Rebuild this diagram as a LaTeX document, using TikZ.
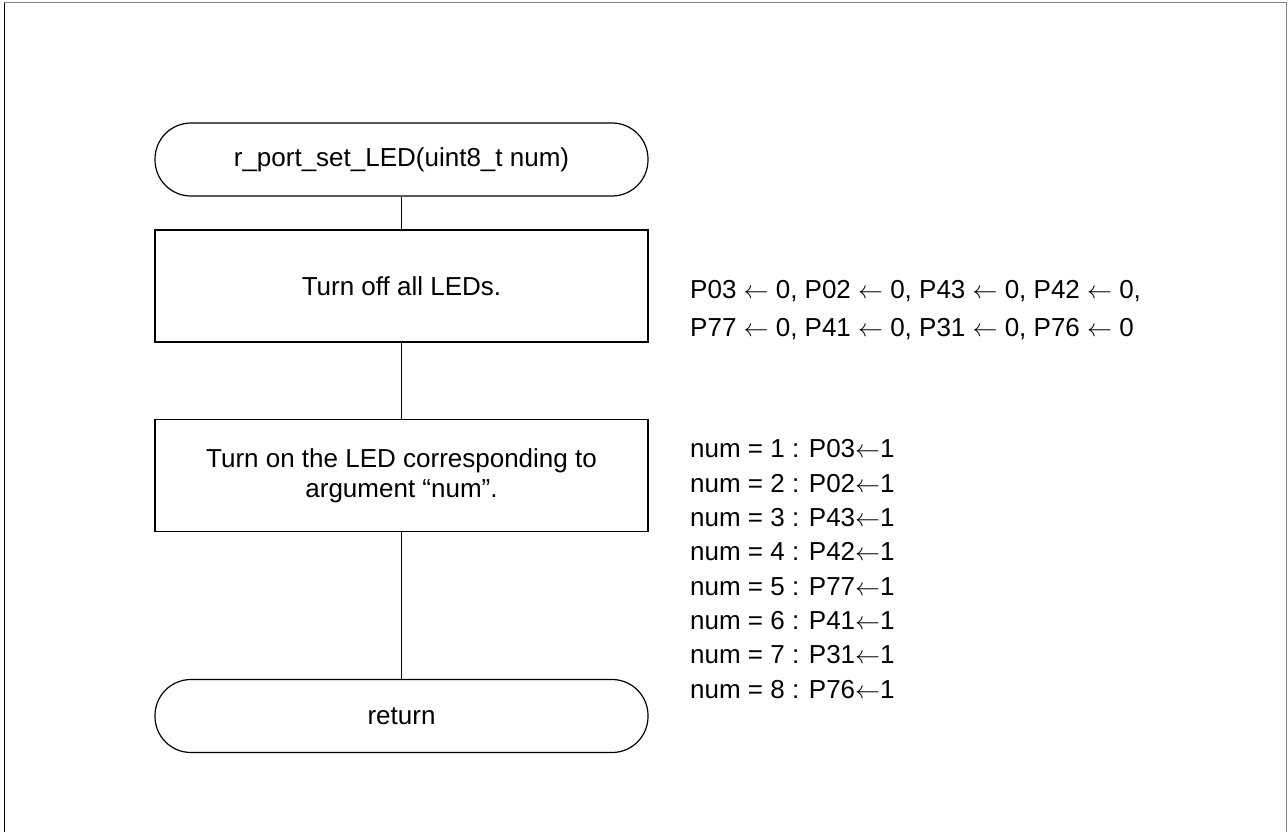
\documentclass[tikz,border=0pt]{standalone}
\usepackage{fontspec}
\setmainfont{Liberation Sans}
\newcommand{\la}{$\leftarrow$}
\begin{document}
\begin{tikzpicture}[x=1pt,y=-1pt,
  every node/.style={font=\fontsize{26}{30}\selectfont},
  term/.style={draw, line width=1.2pt, rounded corners=36pt, minimum width=493pt, minimum height=73pt, inner sep=0pt},
  proc/.style={draw, line width=1.2pt, minimum width=493pt, minimum height=112pt, align=center, inner sep=0pt},
  note/.style={anchor=base west, inner sep=0pt, align=left},
  conn/.style={line width=1.2pt}]
\useasboundingbox (0,0) rectangle (1288,832);
\draw[black, line width=1pt] (4,832) -- (4,3);
\draw[gray, line width=1pt] (4,3) -- (1286,3) -- (1286,832);
\node[term] (start) at (401.5,159.5) {r\_port\_set\_LED(uint8\_t num)};
\node[proc] (off) at (401.5,286) {Turn off all LEDs.};
\node[proc] (on) at (401.5,475.5) {Turn on the LED corresponding to\\argument “num”.};
\node[term] (ret) at (401.5,716) {return};
\draw[conn] (start) -- (off);
\draw[conn] (off) -- (on);
\draw[conn] (on) -- (ret);
% anchor "base" of a multi-line node is the baseline of its last line
\node[note, font=\fontsize{26}{38}\selectfont] (offnote) at (690,336) {P03 \la{} 0, P02 \la{} 0, P43 \la{} 0, P42 \la{} 0,\\P77 \la{} 0, P41 \la{} 0, P31 \la{} 0, P76 \la{} 0};
\node[note, font=\fontsize{26}{34.3}\selectfont] (onnote) at (690,698) {num = 1 : P03\la1\\num = 2 : P02\la1\\num = 3 : P43\la1\\num = 4 : P42\la1\\num = 5 : P77\la1\\num = 6 : P41\la1\\num = 7 : P31\la1\\num = 8 : P76\la1};
\end{tikzpicture}
\end{document}
